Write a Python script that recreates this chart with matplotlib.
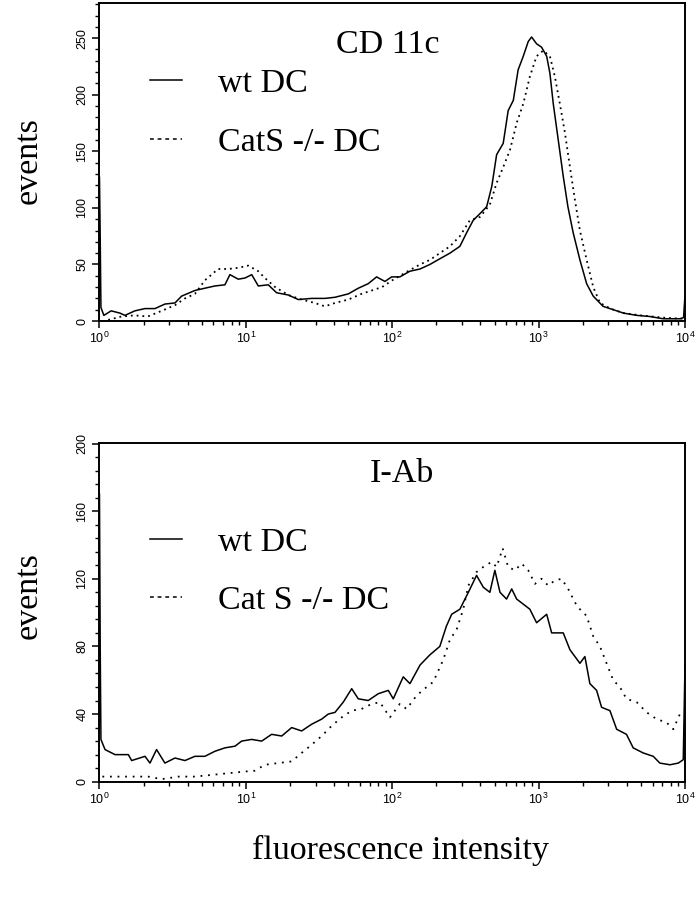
import numpy as np
import matplotlib
matplotlib.use('Agg')
import matplotlib.pyplot as plt
from matplotlib.lines import Line2D
from matplotlib.ticker import MultipleLocator, LogLocator, LogFormatterMathtext, NullFormatter

plt.rcParams['font.family'] = 'Liberation Sans'
plt.rcParams['mathtext.default'] = 'regular'
SERIF = 'Liberation Serif'

# channel positions in decades (log10 of fluorescence) and event counts
cd11c_wt_log = [0.0, 0.005, 0.01, 0.03, 0.08, 0.14, 0.174, 0.242, 0.311, 0.379, 0.447, 0.516,
                0.561, 0.652, 0.72, 0.789, 0.857, 0.891, 0.948, 0.994, 1.04, 1.085, 1.153, 1.21,
                1.29, 1.358, 1.45, 1.54, 1.609, 1.7, 1.768, 1.836, 1.893, 1.95, 1.996, 2.052,
                2.12, 2.19, 2.257, 2.325, 2.394, 2.462, 2.508, 2.553, 2.6, 2.645, 2.68, 2.713,
                2.758, 2.792, 2.827, 2.86, 2.895, 2.929, 2.952, 2.986, 3.02, 3.055, 3.077, 3.1,
                3.134, 3.168, 3.2, 3.236, 3.282, 3.328, 3.373, 3.44, 3.51, 3.58, 3.67, 3.76,
                3.85, 3.965, 3.99, 4.0]
cd11c_wt = [127, 74, 12, 5, 9, 7, 5, 9, 11, 11, 15, 16,
            22, 27, 29, 31, 32, 41, 37, 38, 41, 31, 32, 25,
            23, 19, 20, 20, 21, 24, 29, 33, 39, 35, 39, 39,
            44, 46, 50, 55, 60, 66, 78, 89, 95, 101, 119, 147,
            157, 186, 195, 222, 234, 247, 251, 245, 242, 234, 219, 192,
            160, 128, 101, 78, 54, 33, 22, 13, 10, 7, 5, 4,
            2, 2, 3, 23]

cd11c_ko_log = [0.06, 0.15, 0.24, 0.33, 0.425, 0.516, 0.584, 0.652, 0.72, 0.766, 0.81, 0.88,
                0.948, 1.016, 1.085, 1.13, 1.2, 1.29, 1.38, 1.47, 1.54, 1.61, 1.7, 1.79,
                1.86, 1.93, 2.0, 2.12, 2.19, 2.257, 2.325, 2.394, 2.462, 2.53, 2.6, 2.667,
                2.713, 2.758, 2.804, 2.85, 2.895, 2.94, 2.986, 3.031, 3.077, 3.111, 3.145, 3.18,
                3.214, 3.248, 3.282, 3.328, 3.373, 3.419, 3.49, 3.58, 3.7, 3.85, 3.99]
cd11c_ko = [1, 4, 5, 4, 9, 14, 20, 24, 36, 41, 46, 46,
            47, 49, 44, 38, 30, 23, 19, 16, 13, 16, 19, 24,
            27, 30, 36, 45, 50, 54, 60, 66, 75, 89, 92, 103,
            122, 136, 151, 175, 192, 216, 234, 239, 234, 216, 192, 166,
            136, 107, 80, 54, 30, 16, 11, 7, 5, 3, 2]

iab_wt_log = [0.0, 0.005, 0.01, 0.038, 0.106, 0.197, 0.22, 0.311, 0.345, 0.39, 0.447, 0.516,
              0.584, 0.652, 0.72, 0.789, 0.857, 0.926, 0.971, 1.04, 1.108, 1.176, 1.245, 1.313,
              1.381, 1.45, 1.518, 1.563, 1.609, 1.665, 1.723, 1.768, 1.836, 1.904, 1.973, 2.007,
              2.075, 2.121, 2.19, 2.257, 2.325, 2.37, 2.406, 2.462, 2.52, 2.576, 2.622, 2.667,
              2.701, 2.736, 2.781, 2.816, 2.85, 2.895, 2.94, 2.986, 3.055, 3.089, 3.168, 3.214,
              3.282, 3.316, 3.35, 3.396, 3.43, 3.487, 3.533, 3.6, 3.646, 3.714, 3.783, 3.828,
              3.897, 3.954, 3.988, 4.0]
iab_wt = [170, 80, 25, 19, 16, 16, 12.5, 15, 11, 19, 11, 14,
          12.5, 15, 15, 18, 20, 21, 24, 25, 24, 28, 27, 32,
          30, 34, 37, 40, 41, 47, 55, 49, 48, 52, 54, 49,
          62, 58, 69, 75, 80, 92, 99, 102, 112, 122, 115, 112,
          125, 112, 108, 114, 108, 105, 102, 94, 99, 88, 88, 78,
          70, 74, 58, 54, 44, 42, 31, 28, 20, 17, 15, 11,
          10, 11, 13, 70]

iab_ko_log = [0.02, 0.06, 0.197, 0.333, 0.425, 0.54, 0.652, 0.766, 0.88, 0.994, 1.062, 1.13,
              1.221, 1.313, 1.381, 1.438, 1.518, 1.586, 1.654, 1.723, 1.79, 1.86, 1.916, 1.984,
              2.052, 2.098, 2.167, 2.235, 2.28, 2.348, 2.394, 2.44, 2.485, 2.52, 2.576, 2.622,
              2.679, 2.713, 2.754, 2.792, 2.838, 2.884, 2.929, 2.975, 3.02, 3.065, 3.111, 3.157,
              3.202, 3.248, 3.282, 3.328, 3.373, 3.419, 3.464, 3.51, 3.555, 3.6, 3.67, 3.738,
              3.806, 3.874, 3.92, 3.965]
iab_ko = [3, 3, 3, 3, 1.5, 3, 3, 4, 5, 6, 6.5, 10,
          11, 12, 17, 21, 27, 33, 38, 42, 43, 46, 47, 38,
          46, 43, 51, 56, 59, 72, 84, 90, 102, 116, 124, 127,
          130, 127, 138, 127, 125, 129, 125, 117, 120, 116, 119, 120,
          114, 106, 102, 98, 86, 80, 70, 60, 56, 49, 47, 41,
          37, 35, 31, 40]

fig = plt.figure(figsize=(6.99, 8.99), dpi=100)
ax1 = fig.add_axes([0.1423, 0.6429, 0.8377, 0.3537])
ax2 = fig.add_axes([0.1423, 0.1305, 0.8377, 0.3771])

FS = 24.5


def setup(ax, ymax, major, minor, title, ko_label, title_x, title_y, leg_y, ylab_y):
    ax.set_xscale('log')
    ax.set_xlim(1, 1e4)
    ax.set_ylim(0, ymax)
    ax.yaxis.set_major_locator(MultipleLocator(major))
    ax.yaxis.set_minor_locator(MultipleLocator(minor))
    ax.xaxis.set_major_locator(LogLocator(base=10))
    ax.xaxis.set_major_formatter(LogFormatterMathtext())
    ax.xaxis.set_minor_locator(LogLocator(base=10, subs=np.arange(2, 10)))
    ax.xaxis.set_minor_formatter(NullFormatter())
    ax.tick_params(which='major', direction='out', length=5, width=1.1, labelsize=9)
    ax.tick_params(which='minor', direction='out', length=3, width=1.0)
    ax.tick_params(axis='y', labelrotation=90, pad=3)
    ax.tick_params(axis='x', pad=2)
    for lab in ax.get_yticklabels():
        lab.set_va('center')
    for sp in ax.spines.values():
        sp.set_linewidth(1.4)
    ax.text(title_x, title_y, title, transform=ax.transAxes, ha='center', va='center',
            family=SERIF, fontsize=FS)
    handles = [Line2D([], [], color='black', lw=1.1),
               Line2D([], [], color='black', lw=1.1, linestyle=(0, (2.5, 2.5)))]
    ax.legend(handles, ['wt DC', ko_label], loc='upper left', bbox_to_anchor=(0.086, leg_y),
              frameon=False, borderpad=0, borderaxespad=0, handlelength=0.95,
              handletextpad=1.05, labelspacing=0.82, prop={'family': SERIF, 'size': FS})
    ax.set_ylabel('events', family=SERIF, fontsize=FS)
    ax.yaxis.set_label_coords(-0.095, ylab_y)


ax1.plot(10 ** np.array(cd11c_wt_log), cd11c_wt, color='black', lw=1.1)
ax1.plot(10 ** np.array(cd11c_ko_log), cd11c_ko, color='black', lw=1.3, linestyle=(0, (1, 2.2)))
setup(ax1, 281, 50, 10, 'CD 11c', 'CatS -/- DC', 0.492, 0.868, 0.795, 0.505)

ax2.plot(10 ** np.array(iab_wt_log), iab_wt, color='black', lw=1.1)
ax2.plot(10 ** np.array(iab_ko_log), iab_ko, color='black', lw=1.3, linestyle=(0, (1, 3.2)))
setup(ax2, 200.5, 40, 8, 'I-Ab', 'Cat S -/- DC', 0.517, 0.908, 0.752, 0.55)

fig.text(400 / 699, 1 - 850 / 899, 'fluorescence intensity', ha='center', va='center',
         family=SERIF, fontsize=FS)

fig.savefig('out.png', dpi=100)
